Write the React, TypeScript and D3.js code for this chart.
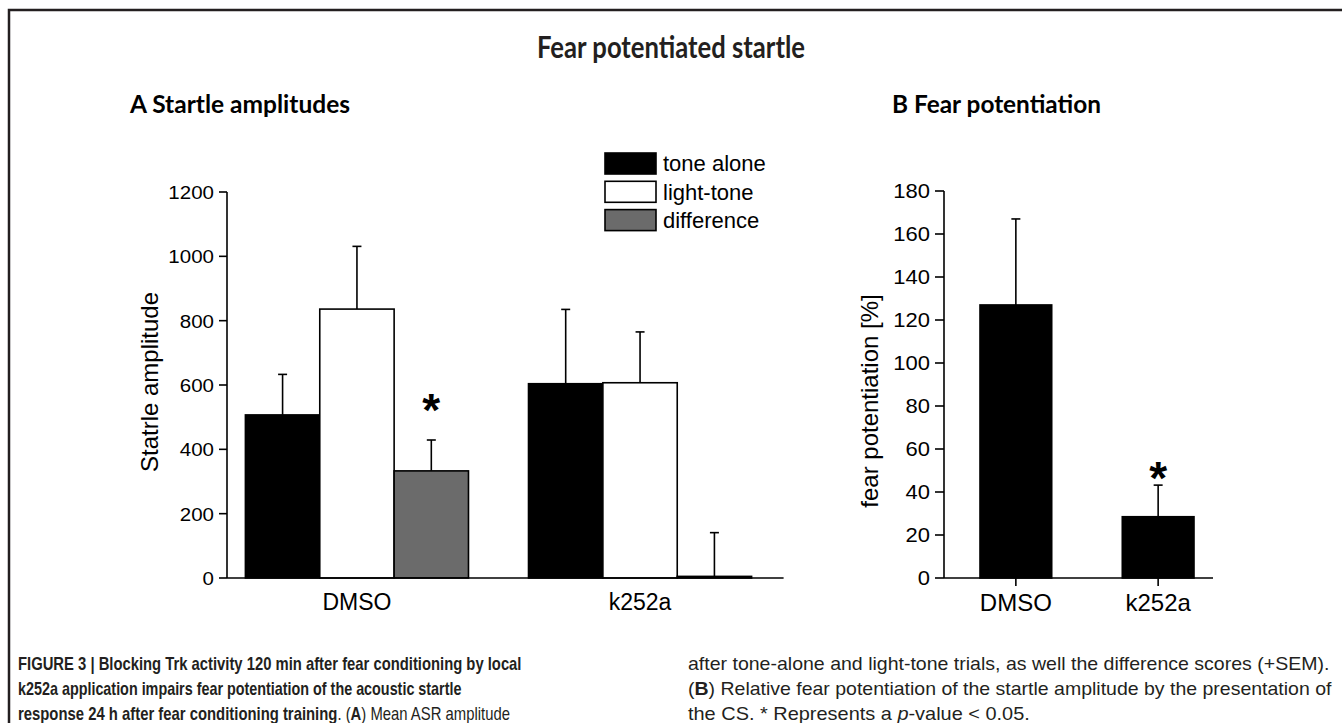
import React, { useLayoutEffect, useRef, useState } from "react";
import * as d3 from "d3";

const categoriesA = ["DMSO", "k252a"];
const seriesA = ["tone alone", "light-tone", "difference"];
const toneAlone = [507, 604];
const toneAloneSem = [126, 231];
const lightTone = [836, 607];
const lightToneSem = [195, 158];
const difference = [333, 5];
const differenceSem = [96, 136];
const ticksA = [0, 200, 400, 600, 800, 1000, 1200];
// significance star level (value units) for the difference bar, null = none
const starA = [545, null];

const categoriesB = ["DMSO", "k252a"];
const fearPot = [127, 28.5];
const fearPotSem = [40, 14.7];
const ticksB = [0, 20, 40, 60, 80, 100, 120, 140, 160, 180];
const starB = [null, 50];

const seriesFill = ["#000000", "#ffffff", "#6b6b6b"];

const FONT = "'Liberation Sans', Arial, sans-serif";
const TITLE_FONT = "Lato, 'Open Sans', sans-serif";

function FitText(props: any) {
  const { x, y, width, children, ...rest } = props;
  const ref = useRef<SVGTextElement>(null);
  const [sx, setSx] = useState(1);
  useLayoutEffect(() => {
    if (ref.current) {
      const w = ref.current.getBBox().width;
      if (w > 0) setSx(width / w);
    }
  }, [width]);
  return (
    <text ref={ref} transform={`translate(${x},${y}) scale(${sx},1)`} {...rest}>
      {children}
    </text>
  );
}

function Star({ x, y }: { x: number; y: number }) {
  return (
    <text x={x} y={y} dy="0.5em" textAnchor="middle" fontSize={46} fontWeight={700} fontFamily={FONT}>
      *
    </text>
  );
}

export default function App() {
  const W = 1342;
  const H = 723;

  const yA = d3.scaleLinear().domain([0, 1200]).range([578, 192]);
  const xA = d3.scaleBand<string>().domain(categoriesA).range([227, 770]).paddingInner(0.212).paddingOuter(0.065);
  const xA2 = d3.scaleBand<string>().domain(seriesA).range([0, xA.bandwidth()]);
  const seriesVals = [toneAlone, lightTone, difference];
  const seriesSem = [toneAloneSem, lightToneSem, differenceSem];

  const yB = d3.scaleLinear().domain([0, 180]).range([578, 191]);
  const xB = d3.scaleBand<string>().domain(categoriesB).range([944, 1230]).paddingInner(0.496).paddingOuter(0.253);

  const axisA0 = xA.range()[0];
  const axisA1 = (xA(categoriesA[1]) as number) + xA.bandwidth() + 32;
  const axisB0 = xB.range()[0];
  const axisB1 = (xB(categoriesB[1]) as number) + xB.bandwidth() + 19;

  const capW = 9;
  const sw = 1.6;

  return (
    <svg width={W} height={H} style={{ display: "block", position: "absolute", left: 0, top: 0, background: "#fff" }}>
      <rect x={0} y={0} width={W} height={H} fill="#fff" />
      <path d={`M9,${H} V10 H${W}`} fill="none" stroke="#231f20" strokeWidth={2.5} />

      <text x={671} y={58} textAnchor="middle" fontFamily={TITLE_FONT} fontWeight={700} fontSize={30} fill="#231f20" textLength={268} lengthAdjust="spacingAndGlyphs">
        Fear potentiated startle
      </text>
      <text x={130} y={113} fontFamily={TITLE_FONT} fontWeight={700} fontSize={25} fill="#000" textLength={220} lengthAdjust="spacingAndGlyphs">
        A Startle amplitudes
      </text>
      <text x={892} y={113} fontFamily={TITLE_FONT} fontWeight={700} fontSize={25} fill="#000" textLength={209} lengthAdjust="spacingAndGlyphs">
        B Fear potentiation
      </text>

      {/* Panel A */}
      <g fontFamily={FONT} fill="#000">
        {categoriesA.map((c, ci) =>
          seriesA.map((s, si) => {
            const x0 = (xA(c) as number) + (xA2(s) as number);
            const v = seriesVals[si][ci];
            const e = seriesSem[si][ci];
            const cx = x0 + xA2.bandwidth() / 2;
            return (
              <g key={c + s}>
                <line x1={cx} x2={cx} y1={yA(v)} y2={yA(v + e)} stroke="#000" strokeWidth={sw} />
                <line x1={cx - capW / 2} x2={cx + capW / 2} y1={yA(v + e)} y2={yA(v + e)} stroke="#000" strokeWidth={sw} />
                <rect x={x0} y={yA(v)} width={xA2.bandwidth()} height={yA(0) - yA(v)} fill={seriesFill[si]} stroke="#000" strokeWidth={sw} />
              </g>
            );
          })
        )}
        {categoriesA.map((c, ci) =>
          starA[ci] != null ? (
            <Star key={"s" + c} x={(xA(c) as number) + (xA2(seriesA[2]) as number) + xA2.bandwidth() / 2} y={yA(starA[ci] as number)} />
          ) : null
        )}
        <line x1={axisA0} x2={axisA0} y1={yA(0)} y2={yA(1200)} stroke="#000" strokeWidth={sw} />
        <line x1={axisA0} x2={axisA1} y1={yA(0)} y2={yA(0)} stroke="#000" strokeWidth={sw} />
        {ticksA.map((t) => (
          <g key={t}>
            <line x1={axisA0 - 8} x2={axisA0} y1={yA(t)} y2={yA(t)} stroke="#000" strokeWidth={sw} />
            <text transform={`translate(${axisA0 - 13},${yA(t)}) scale(1.08,1)`} dy="0.36em" textAnchor="end" fontSize={19}>
              {t}
            </text>
          </g>
        ))}
        {categoriesA.map((c) => (
          <text key={c} x={(xA(c) as number) + xA.bandwidth() / 2} y={610} textAnchor="middle" fontSize={23}>
            {c}
          </text>
        ))}
        <text transform={`translate(158,382) rotate(-90)`} textAnchor="middle" fontSize={24}>
          Statrle amplitude
        </text>
        {seriesA.map((s, i) => (
          <g key={s} transform={`translate(605,${153 + i * 28.3})`}>
            <rect x={0} y={0} width={51} height={21} fill={seriesFill[i]} stroke="#000" strokeWidth={sw} />
            <text x={58} y={10.5} dy="0.36em" fontSize={22}>
              {s}
            </text>
          </g>
        ))}
      </g>

      {/* Panel B */}
      <g fontFamily={FONT} fill="#000">
        {categoriesB.map((c, ci) => {
          const x0 = xB(c) as number;
          const v = fearPot[ci];
          const e = fearPotSem[ci];
          const cx = x0 + xB.bandwidth() / 2;
          return (
            <g key={c}>
              <line x1={cx} x2={cx} y1={yB(v)} y2={yB(v + e)} stroke="#000" strokeWidth={sw} />
              <line x1={cx - capW / 2} x2={cx + capW / 2} y1={yB(v + e)} y2={yB(v + e)} stroke="#000" strokeWidth={sw} />
              <rect x={x0} y={yB(v)} width={xB.bandwidth()} height={yB(0) - yB(v)} fill="#000" stroke="#000" strokeWidth={sw} />
              {starB[ci] != null ? <Star x={cx} y={yB(starB[ci] as number)} /> : null}
            </g>
          );
        })}
        <line x1={axisB0} x2={axisB0} y1={yB(0)} y2={yB(180)} stroke="#000" strokeWidth={sw} />
        <line x1={axisB0} x2={axisB1} y1={yB(0)} y2={yB(0)} stroke="#000" strokeWidth={sw} />
        {ticksB.map((t) => (
          <g key={t}>
            <line x1={axisB0 - 9} x2={axisB0} y1={yB(t)} y2={yB(t)} stroke="#000" strokeWidth={sw} />
            <text transform={`translate(${axisB0 - 14},${yB(t)}) scale(1.1,1)`} dy="0.36em" textAnchor="end" fontSize={20}>
              {t}
            </text>
          </g>
        ))}
        {categoriesB.map((c) => {
          const cx = (xB(c) as number) + xB.bandwidth() / 2;
          return (
            <g key={c}>
              <line x1={cx} x2={cx} y1={yB(0)} y2={yB(0) + 8} stroke="#000" strokeWidth={sw} />
              <text x={cx} y={611} textAnchor="middle" fontSize={24}>
                {c}
              </text>
            </g>
          );
        })}
        <text transform={`translate(878,401) rotate(-90)`} textAnchor="middle" fontSize={24}>
          fear potentiation [%]
        </text>
      </g>

      {/* caption */}
      <g fontFamily="'Liberation Sans', Arial, sans-serif" fontSize={18} fill="#231f20">
        <FitText x={18} y={670} width={504} fontWeight={700}>
          FIGURE 3 | Blocking Trk activity 120 min after fear conditioning by local
        </FitText>
        <FitText x={18} y={695} width={444} fontWeight={700}>
          k252a application impairs fear potentiation of the acoustic startle
        </FitText>
        <FitText x={18} y={720} width={492}>
          <tspan fontWeight={700}>response 24 h after fear conditioning training</tspan>
          <tspan>. (</tspan>
          <tspan fontWeight={700}>A</tspan>
          <tspan>) Mean ASR amplitude</tspan>
        </FitText>
        <FitText x={688} y={670} width={642}>
          after tone-alone and light-tone trials, as well the difference scores (+SEM).
        </FitText>
        <FitText x={688} y={695} width={645}>
          <tspan>(</tspan>
          <tspan fontWeight={700}>B</tspan>
          <tspan>) Relative fear potentiation of the startle amplitude by the presentation of</tspan>
        </FitText>
        <FitText x={688} y={720} width={342}>
          <tspan>the CS. * Represents a </tspan>
          <tspan fontStyle="italic">p</tspan>
          <tspan>-value &lt; 0.05.</tspan>
        </FitText>
      </g>
    </svg>
  );
}
